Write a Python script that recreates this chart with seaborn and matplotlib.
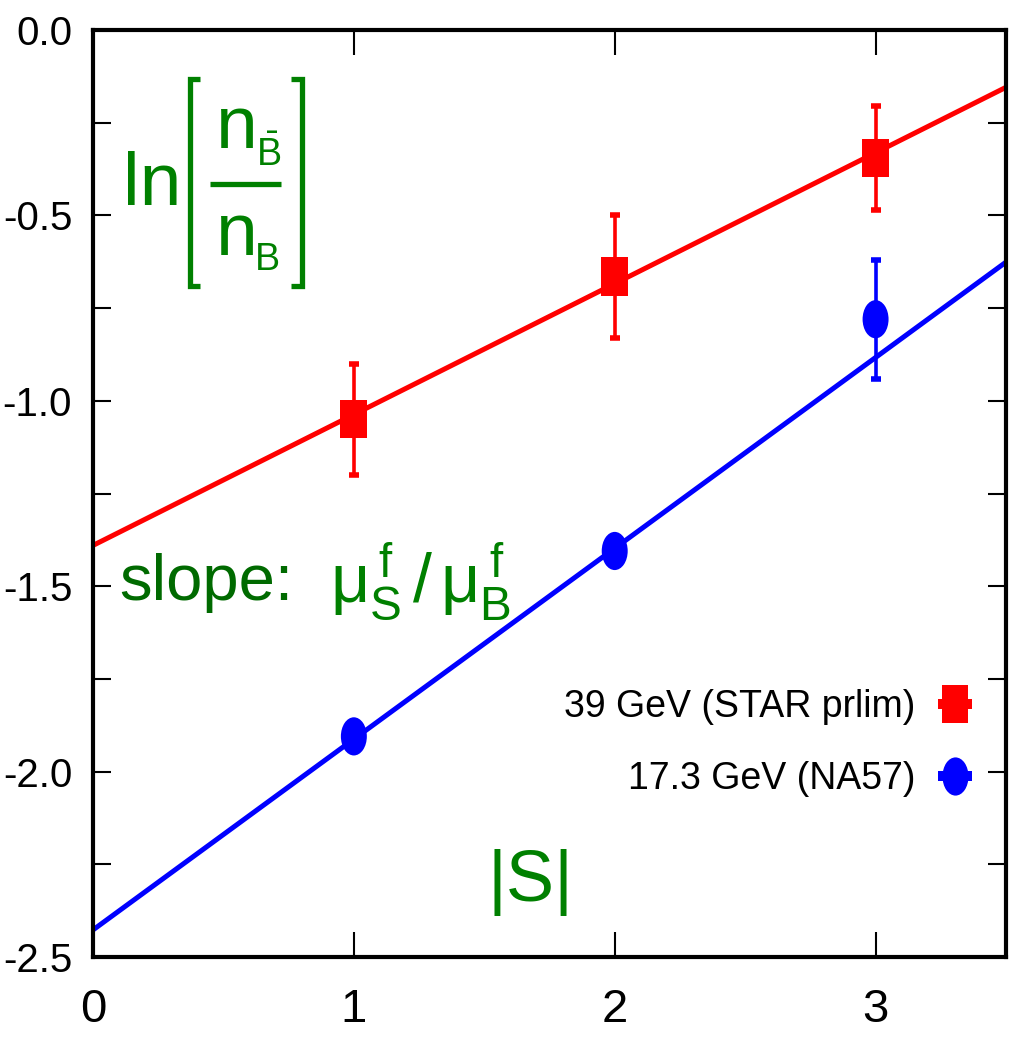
import numpy as np
import pandas as pd
import matplotlib
matplotlib.use("Agg")
import matplotlib.pyplot as plt
import seaborn as sns
from matplotlib import font_manager
from matplotlib.path import Path
from matplotlib.lines import Line2D
from matplotlib.legend_handler import HandlerTuple
from matplotlib.ticker import MultipleLocator, FuncFormatter

# ---------------- data ----------------
strangeness = [1, 2, 3]
star39_y = [-1.05, -0.665, -0.345]
star39_err = [0.15, 0.165, 0.14]
na57_s = [1, 2, 3]
na57_y = [-1.905, -1.405, -0.78]
na57_err = [0.0, 0.0, 0.16]
# straight-line fits (intercept, slope)
star39_fit = [-1.39, 0.353]
na57_fit = [-2.427, 0.5146]
fit_x_range = [0.0, 3.5]
labels = ["39 GeV (STAR prlim)", "17.3 GeV (NA57)"]
colors = ["#ff0000", "#0000ff"]
green = "#008000"

sns.set_theme(style="ticks")
names = {f.name for f in font_manager.fontManager.ttflist}
narrow = "Liberation Sans Narrow" if "Liberation Sans Narrow" in names else "Liberation Sans"
plt.rcParams["font.family"] = [narrow, "Liberation Sans", "DejaVu Sans"]
plt.rcParams["text.color"] = "black"
plt.rcParams["mathtext.fontset"] = "custom"
plt.rcParams["mathtext.rm"] = "Liberation Sans"
plt.rcParams["mathtext.it"] = "Liberation Sans"
plt.rcParams["mathtext.bf"] = "Liberation Sans:bold"
is_narrow = narrow == "Liberation Sans Narrow"
ylab_size = 36 if is_narrow else 29
xlab_size = 36 if is_narrow else 34
leg_size = 36 if is_narrow else 27

W, H = 1019, 1041
fig = plt.figure(figsize=(W / 100, H / 100), dpi=100)
ax = fig.add_axes([93 / W, 1 - 957 / H, (1006 - 93) / W, (957 - 30) / H])

# markers (vertically stretched as in the original)
sq = Path([(-0.35, -0.5), (0.35, -0.5), (0.35, 0.5), (-0.35, 0.5), (-0.35, -0.5)],
          [Path.MOVETO, Path.LINETO, Path.LINETO, Path.LINETO, Path.CLOSEPOLY])
uc = Path.unit_circle()
ell = Path(uc.vertices * np.array([0.68, 1.0]), uc.codes)
stub = Path([(-0.5, -0.13), (0.5, -0.13), (0.5, 0.13), (-0.5, 0.13), (-0.5, -0.13)],
            [Path.MOVETO, Path.LINETO, Path.LINETO, Path.LINETO, Path.CLOSEPOLY])

# fit lines
xx = np.linspace(fit_x_range[0], fit_x_range[1], 50)
lines_df = pd.concat([
    pd.DataFrame({"x": xx, "y": star39_fit[0] + star39_fit[1] * xx, "set": labels[0]}),
    pd.DataFrame({"x": xx, "y": na57_fit[0] + na57_fit[1] * xx, "set": labels[1]}),
])
sns.lineplot(data=lines_df, x="x", y="y", hue="set", palette=colors, linewidth=3.6,
             legend=False, ax=ax, zorder=2)

# error bars
ax.errorbar(strangeness, star39_y, yerr=star39_err, fmt="none", ecolor=colors[0],
            elinewidth=2.6, capsize=3.4, capthick=4, zorder=3)
ax.errorbar(na57_s[2:], na57_y[2:], yerr=na57_err[2:], fmt="none", ecolor=colors[1],
            elinewidth=2.6, capsize=3.4, capthick=4, zorder=3)

# points
sns.scatterplot(x=strangeness, y=star39_y, marker=sq, s=27.5 ** 2, color=colors[0],
                edgecolor="none", linewidth=0, ax=ax, zorder=4)
sns.scatterplot(x=na57_s, y=na57_y, marker=ell, s=27.5 ** 2, color=colors[1],
                edgecolor="none", linewidth=0, ax=ax, zorder=4)

ax.set_xlim(0, 3.5)
ax.set_ylim(-2.5, 0.0)
ax.xaxis.set_major_locator(MultipleLocator(1))
ax.yaxis.set_major_locator(MultipleLocator(0.5))
ax.yaxis.set_minor_locator(MultipleLocator(0.25))
ax.yaxis.set_major_formatter(FuncFormatter(lambda v, p: f"{v:.1f}".replace("\u2212", "-")))
ax.xaxis.set_major_formatter(FuncFormatter(lambda v, p: f"{v:.0f}"))
ax.set_xlabel("")
ax.set_ylabel("")
for s in ax.spines.values():
    s.set_visible(True)
    s.set_linewidth(3.0)
    s.set_color("black")
ax.tick_params(axis="x", which="major", direction="in", length=18, width=1.5,
               top=True, bottom=True, labelsize=xlab_size, pad=22, colors="black")
ax.tick_params(axis="y", which="both", direction="in", length=13, width=1.5,
               left=True, right=True, labelsize=ylab_size, pad=15, colors="black")
ax.grid(False)

# legend
h1 = (Line2D([], [], linestyle="none", marker=stub, markersize=25, color=colors[0], markeredgewidth=0),
      Line2D([], [], linestyle="none", marker=sq, markersize=27.5, color=colors[0], markeredgewidth=0))
h2 = (Line2D([], [], linestyle="none", marker=stub, markersize=25, color=colors[1], markeredgewidth=0),
      Line2D([], [], linestyle="none", marker=ell, markersize=27.5, color=colors[1], markeredgewidth=0))
leg = ax.legend([h1, h2], labels, handler_map={tuple: HandlerTuple(ndivide=1, pad=0)},
                loc="lower right", bbox_to_anchor=((983 - 93) / (1006 - 93), (957 - 797) / (957 - 30)),
                frameon=False, markerfirst=False, fontsize=leg_size, handlelength=1.5,
                handletextpad=0.3, labelspacing=0.95, borderaxespad=0, borderpad=0)
for t in leg.get_texts():
    t.set_color("black")

# annotations
def P(x, y):
    return x / W, 1 - y / H

fig.text(*P(123, 205), "ln", fontsize=54, color=green, family="Liberation Sans", va="baseline")
fig.text(*P(216, 148), "n", fontsize=54, color=green, family="Liberation Sans", va="baseline")
fig.text(*P(256, 166), r"$\bar{\mathrm{B}}$", fontsize=27, color=green, va="baseline")
fig.text(*P(216, 255), "n", fontsize=54, color=green, family="Liberation Sans", va="baseline")
fig.text(*P(255, 270), "B", fontsize=27, color=green, family="Liberation Sans", va="baseline")
lw = 3.8
for xs, ys in [([210, 281], [184, 184]),
               ([200, 189.5, 189.5, 200], [79, 79, 286, 286]),
               ([291, 301.5, 301.5, 291], [79, 79, 286, 286])]:
    fx = [x / W for x in xs]
    fy = [1 - y / H for y in ys]
    fig.add_artist(Line2D(fx, fy, color=green, linewidth=lw, solid_joinstyle="miter",
                          solid_capstyle="butt"))

fig.text(*P(119, 600), "slope:", fontsize=47, color="#006a00", family="Liberation Sans", va="baseline")
fig.text(*P(330, 602), r"$\mu^{\,\mathrm{f}}_{\mathrm{S}}\,/\,\mu^{\,\mathrm{f}}_{\mathrm{B}}$",
         fontsize=49, color=green, va="baseline")
fig.text(*P(530, 882), "|S|", fontsize=52, color=green, family="Liberation Sans",
         ha="center", va="center")

fig.savefig("out.png", dpi=100)
